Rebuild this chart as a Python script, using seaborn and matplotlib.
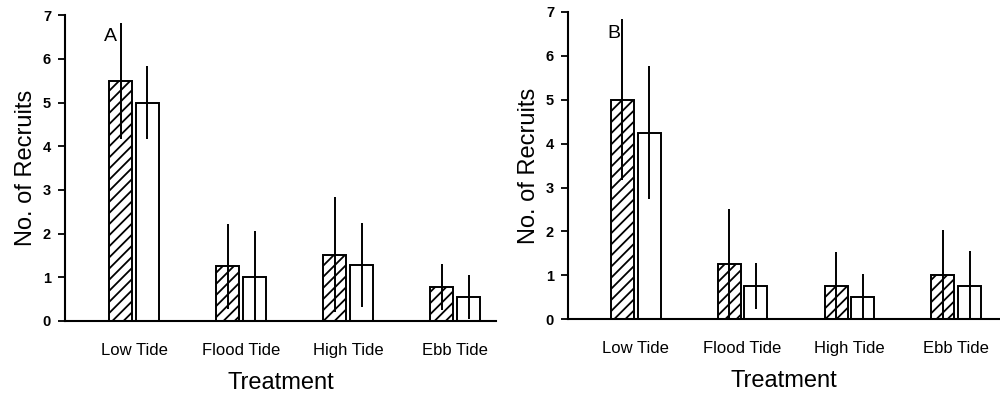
import matplotlib
matplotlib.use("Agg")
import matplotlib.pyplot as plt
import seaborn as sns
import pandas as pd
import numpy as np

categories = ["Low Tide", "Flood Tide", "High Tide", "Ebb Tide"]
groups = ["Hatched", "Open"]

# Panel A
a_hatched = [5.5, 1.25, 1.52, 0.78]
a_hatched_err = [1.33, 0.97, 1.32, 0.52]
a_open = [5.0, 1.0, 1.28, 0.55]
a_open_err = [0.84, 1.05, 0.97, 0.50]

# Panel B
b_hatched = [5.0, 1.25, 0.75, 1.0]
b_hatched_err = [1.84, 1.27, 0.77, 1.03]
b_open = [4.25, 0.75, 0.5, 0.75]
b_open_err = [1.51, 0.52, 0.53, 0.80]

y_ticks = [0, 1, 2, 3, 4, 5, 6, 7]

sns.set_theme(style="ticks")
plt.rcParams["font.family"] = ["Liberation Sans", "DejaVu Sans"]
plt.rcParams["hatch.linewidth"] = 1.3
plt.rcParams["text.color"] = "black"
plt.rcParams["axes.labelcolor"] = "black"
plt.rcParams["xtick.color"] = "black"
plt.rcParams["ytick.color"] = "black"

fig = plt.figure(figsize=(10, 3.98), dpi=100)
axA = fig.add_axes([0.065, 0.1935, 0.431, 0.7685])
axB = fig.add_axes([0.568, 0.198, 0.432, 0.772])


def draw(ax, hv, he, ov, oe, letter, xlim):
    df = pd.DataFrame({
        "Treatment": categories * 2,
        "Group": [groups[0]] * 4 + [groups[1]] * 4,
        "Value": hv + ov,
    })
    sns.barplot(data=df, x="Treatment", y="Value", hue="Group",
                order=categories, hue_order=groups,
                palette=["white", "white"], edgecolor="black",
                linewidth=1.4, width=0.5, gap=0.14, errorbar=None,
                legend=False, ax=ax)
    errs = he + oe
    bars = [p for p in ax.patches]
    for i, p in enumerate(bars[:8]):
        if i < 4:
            p.set_hatch("///")
        cx = p.get_x() + p.get_width() / 2
        h = p.get_height()
        e = errs[i]
        ax.errorbar([cx], [h], yerr=[[e], [e]], fmt="none", ecolor="black",
                    elinewidth=1.4, capsize=0, zorder=5)
    ax.set_ylim(0, 7)
    ax.set_xlim(*xlim)
    ax.set_yticks(y_ticks)
    ax.set_yticklabels([str(t) for t in y_ticks], fontweight="bold", fontsize=10.5)
    ax.tick_params(axis="y", length=5, width=1.3, direction="out", pad=5)
    ax.tick_params(axis="x", length=0, pad=16, labelsize=12)
    for s in ["top", "right"]:
        ax.spines[s].set_visible(False)
    for s in ["left", "bottom"]:
        ax.spines[s].set_linewidth(1.5)
        ax.spines[s].set_color("black")
    ax.set_ylabel("No. of Recruits", fontsize=17, labelpad=4)
    ax.set_xlabel("Treatment", fontsize=17, labelpad=10)
    ax.text(0.09, 0.93, letter, transform=ax.transAxes, fontsize=14,
            ha="left", va="center")


draw(axA, a_hatched, a_hatched_err, a_open, a_open_err, "A", (-0.645, 3.38))
draw(axB, b_hatched, b_hatched_err, b_open, b_open_err, "B", (-0.635, 3.41))

fig.savefig("out.png", dpi=100)
